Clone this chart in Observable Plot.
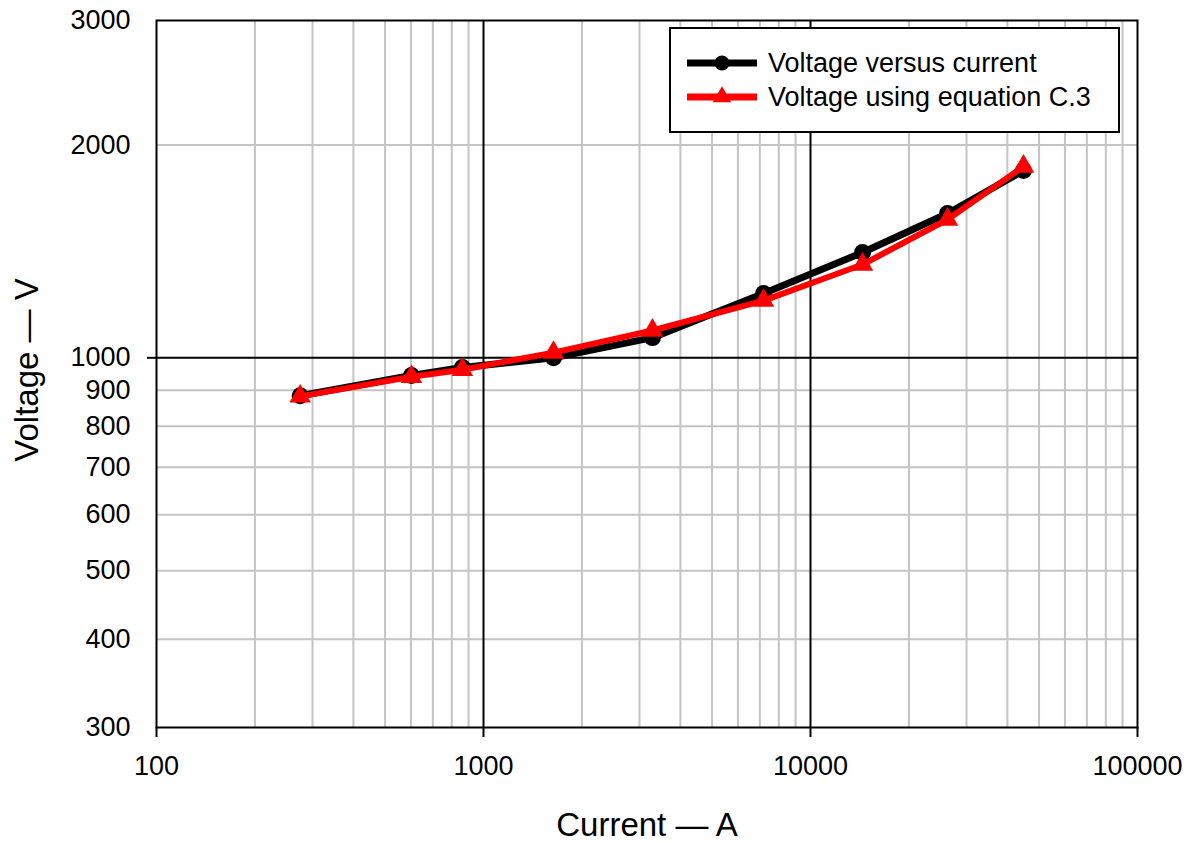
<!DOCTYPE html>
<html>
<head>
<meta charset="utf-8">
<script src="https://cdn.jsdelivr.net/npm/d3@7"></script>
<script src="https://cdn.jsdelivr.net/npm/@observablehq/plot@0.6"></script>
<style>
  html, body { margin: 0; padding: 0; background: #fff; }
  #chart { width: 1192px; height: 843px; }
</style>
</head>
<body>
<div id="chart"></div>
<script>
// Measured current (A) at each test point
const current = [275, 602, 862, 1637, 3287, 7184, 14420, 26240, 44810];
// Measured voltage (V)
const voltageMeasured = [884, 944, 969, 1000, 1068, 1233, 1409, 1600, 1840];
// Voltage computed with equation C.3 (V)
const voltageEquation = [882, 940, 962, 1017, 1093, 1205, 1355, 1569, 1865];

// Axis ticks and grid
const xTicks = [100, 1000, 10000, 100000];
const xMajorGrid = [1000, 10000];
const xMinorGrid = [200, 300, 400, 500, 600, 700, 800, 900,
                    2000, 3000, 4000, 5000, 6000, 7000, 8000, 9000,
                    20000, 30000, 40000, 50000, 60000, 70000, 80000, 90000];
const yTicks = [300, 400, 500, 600, 700, 800, 900, 1000, 2000, 3000];
const yMajorGrid = [1000];
const yMinorGrid = [400, 500, 600, 700, 800, 900, 2000];

const seriesNames = ["Voltage versus current", "Voltage using equation C.3"];
const seriesColors = ["#000000", "#ff0000"];
const xTitle = "Current — A";
const yTitle = "Voltage — V";

const measured = current.map((c, i) => ({current: c, voltage: voltageMeasured[i]}));
const computed = current.map((c, i) => ({current: c, voltage: voltageEquation[i]}));

const font = "'Liberation Sans', Arial, sans-serif";

const chart = Plot.plot({
  width: 1192,
  height: 843,
  marginLeft: 156,
  marginRight: 55,
  marginTop: 20,
  marginBottom: 116,
  style: {fontFamily: font, background: "white", color: "black"},
  x: {type: "log", domain: [100, 100000]},
  y: {type: "log", domain: [300, 3000]},
  marks: [
    Plot.ruleX(xMinorGrid, {stroke: "#c4c4c4", strokeWidth: 2}),
    Plot.ruleY(yMinorGrid, {stroke: "#c4c4c4", strokeWidth: 2}),
    Plot.ruleX(xMajorGrid, {stroke: "black", strokeWidth: 2}),
    Plot.ruleY(yMajorGrid, {stroke: "black", strokeWidth: 2}),
    Plot.frame({stroke: "black", strokeWidth: 2}),
    Plot.axisX({ticks: xTicks, tickSize: 10, tickPadding: 18, tickFormat: d => String(d),
                fontSize: 27, label: null, strokeWidth: 2}),
    Plot.axisY({ticks: yTicks, tickSize: 0, tickPadding: 26, tickFormat: d => String(d),
                fontSize: 27, label: null}),
    Plot.axisY({ticks: yMajorGrid, tickSize: 9, tickFormat: () => "", label: null, strokeWidth: 2}),
    Plot.text([xTitle], {frameAnchor: "bottom", textAnchor: "middle", lineAnchor: "middle",
                         dy: 98, fontSize: 33, fill: "black"}),
    Plot.text([yTitle], {frameAnchor: "left", textAnchor: "middle", lineAnchor: "middle",
                         dx: -129, dy: -4, rotate: -90, fontSize: 33, fill: "black"}),
    Plot.line(measured, {x: "current", y: "voltage", stroke: seriesColors[0], strokeWidth: 7}),
    Plot.dot(measured, {x: "current", y: "voltage", fill: seriesColors[0], r: 8.5, symbol: "circle"}),
    Plot.line(computed, {x: "current", y: "voltage", stroke: seriesColors[1], strokeWidth: 6}),
    Plot.dot(computed, {x: "current", y: "voltage", fill: seriesColors[1], r: 8, symbol: "triangle"})
  ]
});

document.getElementById("chart").appendChild(chart);

// Legend box in the upper right of the plot area
const svg = d3.select(chart);
const lg = svg.append("g").attr("transform", "translate(670,28)");
lg.append("rect").attr("width", 449).attr("height", 104)
  .attr("fill", "white").attr("stroke", "black").attr("stroke-width", 2);
seriesNames.forEach((name, i) => {
  const y = 35 + i * 34;
  lg.append("line").attr("x1", 17).attr("x2", 87).attr("y1", y).attr("y2", y)
    .attr("stroke", seriesColors[i]).attr("stroke-width", 7);
  if (i === 0) {
    lg.append("circle").attr("cx", 52).attr("cy", y).attr("r", 7.5).attr("fill", seriesColors[i]);
  } else {
    lg.append("path").attr("transform", `translate(52,${y})`)
      .attr("d", d3.symbol(d3.symbolTriangle, 150)()).attr("fill", seriesColors[i]);
  }
  lg.append("text").attr("x", 98).attr("y", y).attr("dy", "0.35em")
    .attr("text-anchor", "start")
    .attr("font-family", font).attr("font-size", 27).attr("fill", "black").text(name);
});
</script>
</body>
</html>
